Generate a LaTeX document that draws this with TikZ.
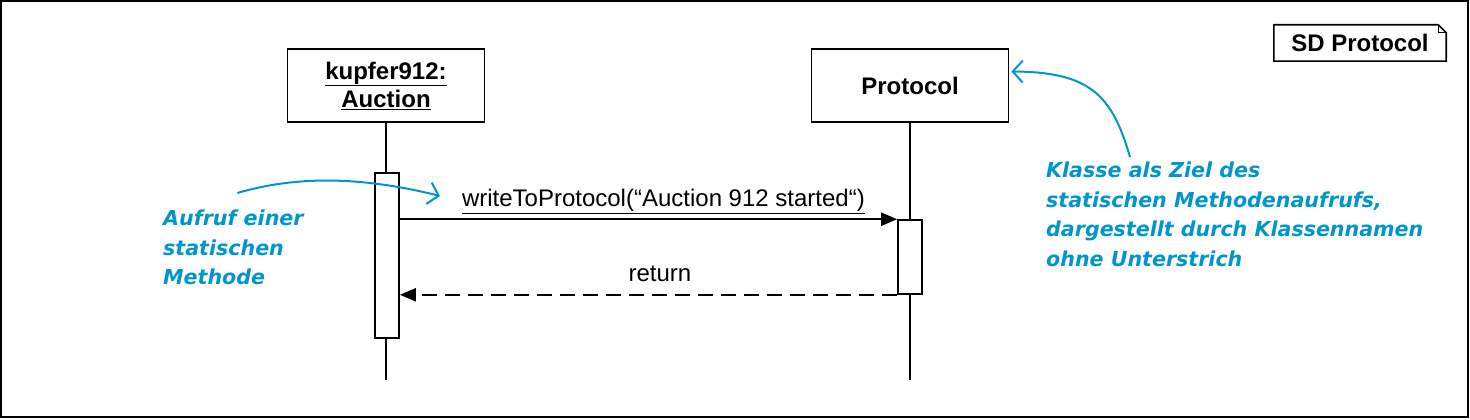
\documentclass[tikz,border=0pt]{standalone}
\usepackage{fontspec}
\setmainfont{Liberation Sans}
\newfontfamily\notefont{DejaVu Sans}
\usepackage{tikz}
\usetikzlibrary{arrows.meta, positioning, calc}
\definecolor{notecol}{RGB}{0,150,205}

\begin{document}
\begin{tikzpicture}[x=1pt, y=-1pt,
    every node/.style={font=\fontsize{24}{28}\selectfont},
    obj/.style={rectangle, draw, line width=1.8pt, minimum width=197pt, minimum height=73pt, align=center, font=\fontsize{24}{29}\selectfont\bfseries},
    act/.style={rectangle, draw, line width=1.6pt, fill=white, minimum width=24pt, inner sep=0pt},
    lifeline/.style={line width=1.6pt},
    call/.style={-{Triangle[length=16pt,width=13pt]}, line width=2pt},
    reply/.style={-{Triangle[length=16pt,width=13pt]}, line width=2pt, dash pattern=on 15pt off 8pt},
    note/.style={notecol, align=left, inner sep=0pt, font=\notefont\bfseries\itshape\fontsize{20.6}{29.5}\selectfont},
    notearrow/.style={notecol, line width=2pt, -{Straight Barb[length=10pt,width=22pt]}}
]
    % frame
    \useasboundingbox (0,0) rectangle (1470,420);
    \draw[line width=1.5pt] (1,1) rectangle (1468,417);

    % diagram name
    \node[font=\fontsize{24}{28}\selectfont\bfseries, minimum width=172pt, minimum height=36pt, inner sep=0pt] (sd) at (1360,43) {SD Protocol};
    \draw[line width=1.6pt] (sd.north west) -- ([xshift=-8pt]sd.north east) -- ([yshift=-8pt]sd.north east)
        -- (sd.south east) -- (sd.south west) -- cycle;
    \draw[line width=0.8pt] ([xshift=-8pt]sd.north east) -- ([xshift=-8pt,yshift=-8pt]sd.north east) -- ([yshift=-8pt]sd.north east);

    % objects
    \node[obj] (auction) at (386,85.5) {\underline{kupfer912:}\\[-1pt]\underline{Auction}};
    \node[obj] (protocol) at (910,85.5) {Protocol};

    % lifelines
    \coordinate (end1) at (386,380);
    \coordinate (end2) at (910,380);
    \draw[lifeline] (auction.south) -- (end1);
    \draw[lifeline] (protocol.south) -- (end2);

    % activations
    \node[act, minimum height=165pt] (act1) at (387,255.5) {};
    \node[act, minimum height=74pt] (act2) at (910,257) {};

    % messages
    \draw[call] (act2.north west -| act1.east) -- node[above=1pt, pos=0.53] {\underline{writeToProtocol(“Auction 912 started“)}} (act2.north west);
    \draw[reply] (act2.south west) -- node[above=9pt, pos=0.477] {return} (act2.south west -| act1.east);

    % notes
    \node[note, anchor=north west] (noteL) at (163,210) {Aufruf einer\\statischen\\Methode};
    \node[note, anchor=north west] (noteR) at (1046,162) {Klasse als Ziel des\\statischen Methodenaufrufs,\\dargestellt durch Klassennamen\\ohne Unterstrich};
    \coordinate (tipL) at (440,196);
    \coordinate (srcR) at (1130,157);
    \draw[notearrow] ([xshift=4pt,yshift=17pt]noteL.north) .. controls (295,176) and (360,176) .. (tipL);
    \draw[notearrow] (srcR) .. controls (1112,95) and (1090,72) .. ([yshift=14pt,xshift=2pt]protocol.east);
\end{tikzpicture}
\end{document}
